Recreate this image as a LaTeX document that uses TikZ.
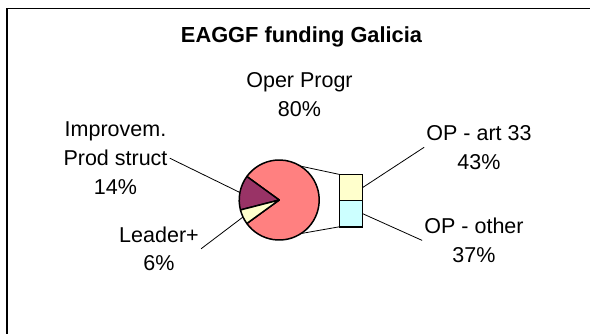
\documentclass[tikz,border=0pt]{standalone}
\usepackage{fontspec}
\setmainfont{Liberation Sans}
\usetikzlibrary{positioning,calc}
\definecolor{pieRed}{HTML}{FF8080}
\definecolor{piePurple}{HTML}{993366}
\definecolor{pieYellow}{HTML}{FFFFCC}
\definecolor{pieCyan}{HTML}{CCFFFF}

\begin{document}
\begin{tikzpicture}[x=1pt, y=1pt, semithick, font=\fontsize{21.5}{28.7}\selectfont]
\tikzstyle{every node}=[align=center, inner sep=2pt]
\tikzstyle{slice}=[draw=black, line width=1.5pt, line join=round]
\tikzstyle{bar}=[draw=black, line width=1.5pt, minimum width=23.4pt, minimum height=26.2pt, inner sep=0pt, outer sep=0pt]
\tikzstyle{lead}=[draw=black, line width=0.8pt]
\useasboundingbox (0,0) rectangle (590,-334);
\draw[line width=1.2pt] (7,-334) -- (7,-8.5) -- (590,-8.5);

\node[anchor=base, font=\fontsize{21.8}{25}\selectfont\bfseries] (title) at (301.5,-42.7) {EAGGF funding Galicia};

% pie
\coordinate (c) at (279.2,-200);
\filldraw[slice, fill=pieRed]    (c) -- ++(216:40) arc[start angle=216, end angle=504, radius=40] -- cycle;
\filldraw[slice, fill=piePurple] (c) -- ++(144:40) arc[start angle=144, end angle=194.4, radius=40] -- cycle;
\filldraw[slice, fill=pieYellow] (c) -- ++(194.4:40) arc[start angle=194.4, end angle=216, radius=40] -- cycle;
\coordinate (pieImp) at ($(c)+(169.2:40)$);
\coordinate (pieLead) at ($(c)+(205.2:40)$);
\coordinate (pieTop) at ($(c)+(58:40)$);
\coordinate (pieBot) at ($(c)+(-57:40)$);

% bar of the 80% slice
\node[bar, fill=pieYellow] (barArt) at (351,-187.5) {};
\node[bar, fill=pieCyan]   (barOth) [below=0pt of barArt] {};

% labels
\node (oper) at (299.5,-94.4)  {Oper Progr\\80\%};
\node (imp)  at (115.5,-158.2) {Improvem.\\Prod struct\\14\%};
\node (lead) at (159,-248.8)   {Leader+\\6\%};
\node (art)  at (479,-147.3)   {OP - art 33\\43\%};
\node (oth)  at (474,-240.4)   {OP - other\\37\%};

\path[lead]
(pieTop) edge (barArt.north west)
(pieBot) edge (barOth.south west)
(imp.east) edge (pieImp)
(lead.east) edge (pieLead)
(barArt.east) edge (art.west)
(barOth.east) edge (oth.west);
\end{tikzpicture}
\end{document}
